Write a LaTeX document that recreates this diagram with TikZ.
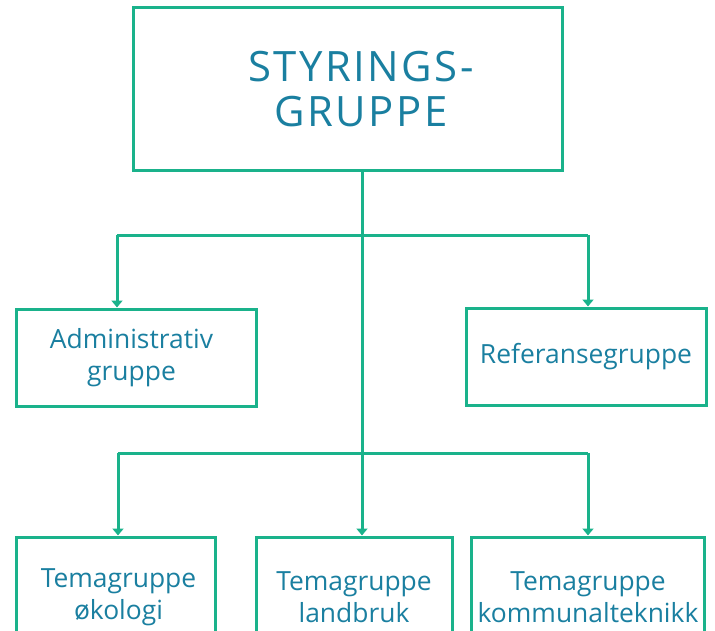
\documentclass[tikz,border=0pt]{standalone}
\usepackage{fontspec}
\setmainfont{Open Sans}
\usetikzlibrary{arrows.meta}
\definecolor{lgreen}{HTML}{1AB28B}
\definecolor{tblue}{HTML}{1A7FA0}
\begin{document}
\begin{tikzpicture}[x=1bp,y=-1bp,
  box/.style={draw=lgreen,line width=3bp,inner sep=0pt,text=tblue,align=center,font=\fontsize{26.5}{32.5}\selectfont},
  conn/.style={draw=lgreen,line width=3bp},
  arr/.style={conn,-{Triangle[width=11bp,length=7bp]}}]
\useasboundingbox (0,0) rectangle (715,631);
\node[box,minimum width=428bp,minimum height=162bp,font=\fontsize{42}{45}\selectfont\addfontfeatures{LetterSpace=6}] (top) at (348,89) {\hspace*{26bp}STYRINGS-\\\hspace*{26bp}GRUPPE};
\node[box,minimum width=239bp,minimum height=97bp] (adm) at (136.5,357.5) {\hspace*{-10bp}Administrativ\\\hspace*{-10bp}gruppe};
\node[box,minimum width=240bp,minimum height=97bp] (ref) at (586,356.5) {Referansegruppe};
\node[box,minimum width=198bp,minimum height=120bp] (tok) at (116,597) {\hspace*{5bp}Temagruppe\\\hspace*{5bp}økologi};
\node[box,minimum width=196bp,minimum height=120bp] (tla) at (354,597) {Temagruppe\\landbruk};
\node[box,minimum width=233bp,minimum height=120bp] (tko) at (588,597) {Temagruppe\\kommunalteknikk};
\coordinate (j1) at (362,235);
\coordinate (j2) at (362,453);
\coordinate (a1) at (117,235);
\coordinate (a2) at (588,235);
\coordinate (b1) at (118,453);
\coordinate (b2) at (588,453);
\draw[conn] (top.south -| j1) -- (j2);
\draw[conn] (a1) -- (a2);
\draw[conn] (b1) -- (b2);
\draw[arr] (a1) -- (a1 |- adm.north);
\draw[arr] (a2) -- (a2 |- ref.north);
\draw[arr] (b1) -- (b1 |- tok.north);
\draw[arr] (j2) -- (j2 |- tla.north);
\draw[arr] (b2) -- (b2 |- tko.north);
\end{tikzpicture}
\end{document}
